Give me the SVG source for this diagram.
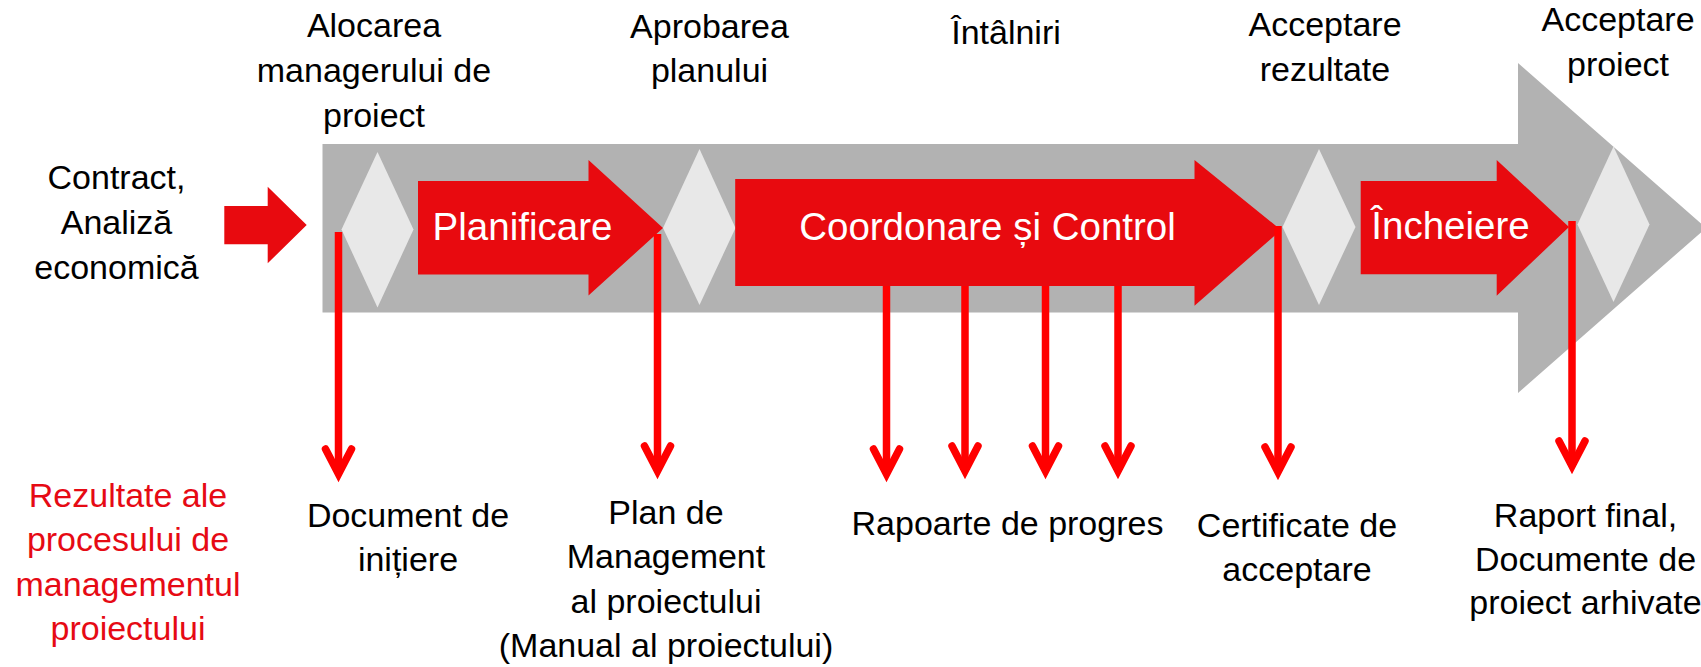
<svg xmlns="http://www.w3.org/2000/svg" xmlns:xlink="http://www.w3.org/1999/xlink" width="1701" height="667" viewBox="0 0 1701 667">
<style>
text{font-family:"Liberation Sans",Arial,sans-serif;text-anchor:middle}
.lbl{font-size:34px;fill:#000}
.red{font-size:34px;fill:#E60A14}
.wt{font-size:38.5px;fill:#fff}
.rf{fill:#E80A0F}
.dm{fill:#E8E8E8}
.ln{stroke:#FF0000;stroke-width:7.5;fill:none}
.hd{stroke:#FF0000;stroke-width:7.5;fill:none;stroke-linecap:round;stroke-linejoin:miter}
</style>
<defs>
<path id="ah" class="hd" d="M-13,-25 L0,0 L13,-25"/>
</defs>
<rect width="1701" height="667" fill="#fff"/>
<g id="band">
<polygon fill="#B2B2B2" points="322.5,144 1518,144 1518,63 1706,228 1518,393 1518,312.5 322.5,312.5"/>
</g>
<g id="milestones">
<polygon class="dm" points="377.5,152 413.5,229.5 377.5,307.5 341.5,229.5"/>
<polygon class="dm" points="699.5,149 735.5,228 699.5,305 663,228"/>
<polygon class="dm" points="1319,149 1355.5,227 1319,305 1282.5,227"/>
<polygon class="dm" points="1613.5,146.5 1649.5,224.5 1613.5,302 1577.5,224.5"/>
</g>
<g id="input">
<polygon class="rf" points="224.3,206 267.7,206 267.7,186.7 306.7,225 267.7,263.3 267.7,244.3 224.3,244.3"/>
<text class="lbl" x="116.5" y="188.5">Contract,</text>
<text class="lbl" x="116.5" y="233.5">Analiză</text>
<text class="lbl" x="116.5" y="278.5">economică</text>
</g>
<g id="planificare">
<polygon class="rf" points="418,181 588.5,181 588.5,160 663,228 588.5,295.5 588.5,274.5 418,274.5"/>
<text class="wt" x="522.5" y="240">Planificare</text>
</g>
<g id="coordonare">
<polygon class="rf" points="735.2,179 1194.5,179 1194.5,160 1281,230 1194.5,305.7 1194.5,286 735.2,286"/>
<text class="wt" x="987.5" y="240">Coordonare și Control</text>
</g>
<g id="incheiere">
<polygon class="rf" points="1360.7,181 1496.7,181 1496.7,160 1569,227 1496.7,295.7 1496.7,274.3 1360.7,274.3"/>
<text class="wt" x="1450.5" y="238.5">Încheiere</text>
</g>
<g id="top-labels">
<text class="lbl" x="374" y="37"><tspan x="374">Alocarea</tspan><tspan x="374" dy="45">managerului de</tspan><tspan x="374" dy="45">proiect</tspan></text>
<text class="lbl" x="709.5" y="37.5"><tspan x="709.5">Aprobarea</tspan><tspan x="709.5" dy="44.5">planului</tspan></text>
<text class="lbl" x="1006" y="43.5">Întâlniri</text>
<text class="lbl" x="1325" y="35.5"><tspan x="1325">Acceptare</tspan><tspan x="1325" dy="45.5">rezultate</tspan></text>
<text class="lbl" x="1618" y="31"><tspan x="1618">Acceptare</tspan><tspan x="1618" dy="45">proiect</tspan></text>
</g>
<g id="connectors">
<path class="ln" d="M338.5,232 V474 M657.5,234 V471 M886.5,286 V474 M965,286 V471 M1045.5,286 V471 M1118,286 V471 M1278,226 V472 M1572,221 V466"/>
<use xlink:href="#ah" x="338.5" y="474"/>
<use xlink:href="#ah" x="657.5" y="471"/>
<use xlink:href="#ah" x="886.5" y="474"/>
<use xlink:href="#ah" x="965" y="471"/>
<use xlink:href="#ah" x="1045.5" y="471"/>
<use xlink:href="#ah" x="1118" y="471"/>
<use xlink:href="#ah" x="1278" y="472"/>
<use xlink:href="#ah" x="1572" y="466"/>
</g>
<g id="results-title">
<text class="red" x="128" y="506.5"><tspan x="128">Rezultate ale</tspan><tspan x="128" dy="44.5">procesului de</tspan><tspan x="128" dy="44.5">managementul</tspan><tspan x="128" dy="44.5">proiectului</tspan></text>
</g>
<g id="out-initiere">
<text class="lbl" x="408" y="526.5"><tspan x="408">Document de</tspan><tspan x="408" dy="44.5">inițiere</tspan></text>
</g>
<g id="out-plan">
<text class="lbl" x="666" y="523.5"><tspan x="666">Plan de</tspan><tspan x="666" dy="44.5">Management</tspan><tspan x="666" dy="44.5">al proiectului</tspan><tspan x="666" dy="44">(Manual al proiectului)</tspan></text>
</g>
<g id="out-rapoarte">
<text class="lbl" x="1007.5" y="535">Rapoarte de progres</text>
</g>
<g id="out-certificate">
<text class="lbl" x="1297" y="536.5"><tspan x="1297">Certificate de</tspan><tspan x="1297" dy="44">acceptare</tspan></text>
</g>
<g id="out-final">
<text class="lbl" x="1585.5" y="526.5"><tspan x="1585.5">Raport final,</tspan><tspan x="1585.5" dy="44.5">Documente de</tspan><tspan x="1585.5" dy="43">proiect arhivate</tspan></text>
</g>
</svg>
